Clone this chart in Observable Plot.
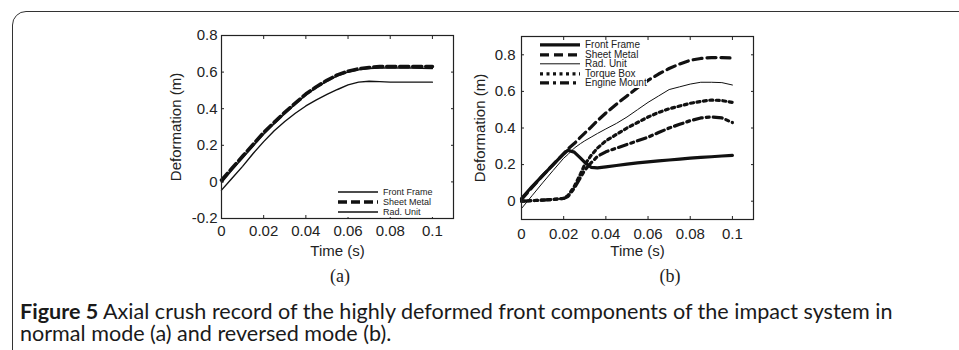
<!DOCTYPE html>
<html><head><meta charset="utf-8">
<script src="https://cdn.jsdelivr.net/npm/d3@7"></script>
<script src="https://cdn.jsdelivr.net/npm/@observablehq/plot@0.6"></script>
<style>
html,body{margin:0;padding:0;background:#fff;}
#root{position:relative;width:959px;height:350px;overflow:hidden;background:#fff;}
.abs{position:absolute;}
#border{left:12px;top:11px;width:1000px;height:400px;border:1.5px solid #333;border-radius:14px 0 0 0;box-sizing:border-box;}
.sub{font-family:"Liberation Serif";font-size:18px;color:#222;transform:translate(-50%,-50%);white-space:nowrap;}
.legend{font-family:"Liberation Sans";color:#222;background:#fff;}
.legend .row{display:flex;align-items:center;white-space:nowrap;}
.legend svg{display:block;margin-right:5px;}
.caption{font-family:"Lato";color:#1a1a1a;white-space:nowrap;left:20px;font-size:17px;line-height:22px;}
.caption b{font-weight:700;}
</style></head><body><div id="root">
<div id="border" class="abs"></div>
<div id="plotA" class="abs" style="left:161px;top:25px"></div>
<div id="plotB" class="abs" style="left:461px;top:26px"></div>
<div id="legA" class="abs legend"></div>
<div id="legB" class="abs legend"></div>
<div class="abs sub" style="left:340px;top:276px">(a)</div>
<div class="abs sub" style="left:670px;top:276px">(b)</div>
<div id="cap" class="abs caption" style="top:300px"><span id="cap1"><b>Figure 5</b> Axial crush record of the highly deformed front components of the impact system in</span><br>normal mode (a) and reversed mode (b).</div>
</div>
<script>
// ---------- data (a): normal mode ----------
const timeA = [0,0.005,0.01,0.015,0.02,0.025,0.03,0.035,0.04,0.045,0.05,0.055,0.06,0.065,0.07,0.075,0.08,0.09,0.1];
const frontFrameA = [-0.005,0.065,0.13,0.195,0.26,0.318,0.372,0.425,0.475,0.515,0.55,0.58,0.6,0.612,0.62,0.622,0.622,0.622,0.62];
const sheetMetalA = [0.01,0.075,0.14,0.205,0.27,0.325,0.38,0.43,0.48,0.52,0.555,0.585,0.605,0.618,0.625,0.63,0.63,0.63,0.63];
const radUnitA = [-0.045,0.02,0.085,0.155,0.22,0.28,0.33,0.375,0.415,0.448,0.478,0.505,0.53,0.545,0.55,0.548,0.545,0.545,0.545];

// ---------- data (b): reversed mode ----------
const timeB = [0,0.005,0.01,0.015,0.02,0.022,0.025,0.028,0.03,0.033,0.036,0.04,0.045,0.05,0.055,0.06,0.065,0.07,0.075,0.08,0.085,0.09,0.095,0.1];
const frontFrameB = [0.015,0.08,0.14,0.2,0.258,0.278,0.268,0.235,0.212,0.185,0.182,0.188,0.195,0.203,0.209,0.215,0.22,0.225,0.23,0.235,0.239,0.243,0.247,0.25];
const sheetMetalB = [0.01,0.075,0.14,0.2,0.26,0.285,0.315,0.35,0.372,0.405,0.44,0.482,0.53,0.575,0.62,0.66,0.695,0.725,0.75,0.77,0.78,0.785,0.785,0.783];
const radUnitB = [-0.04,0.03,0.1,0.168,0.235,0.255,0.29,0.315,0.33,0.35,0.37,0.395,0.425,0.46,0.5,0.54,0.575,0.61,0.625,0.64,0.65,0.65,0.648,0.635];
const torqueBoxB = [0,0.003,0.006,0.01,0.015,0.03,0.08,0.15,0.2,0.25,0.29,0.33,0.365,0.4,0.43,0.46,0.485,0.505,0.52,0.535,0.545,0.553,0.55,0.54];
const engineMountB = [0,0.003,0.006,0.01,0.015,0.025,0.07,0.13,0.17,0.21,0.245,0.27,0.29,0.31,0.33,0.35,0.375,0.4,0.42,0.44,0.455,0.46,0.455,0.43];

// ---------- ticks ----------
const ticksXA = [0,0.02,0.04,0.06,0.08,0.1];
const ticksYA = [-0.2,0,0.2,0.4,0.6,0.8];
const ticksXB = [0,0.02,0.04,0.06,0.08,0.1];
const ticksYB = [0,0.2,0.4,0.6,0.8];

const seriesNamesA = ["Front Frame","Sheet Metal","Rad. Unit"];
const seriesNamesB = ["Front Frame","Sheet Metal","Rad. Unit","Torque Box","Engine Mount"];

const stylesA = [
  {strokeWidth:1.4, dash:null},
  {strokeWidth:3.6, dash:"9,4"},
  {strokeWidth:1.4, dash:null}
];
const stylesB = [
  {strokeWidth:3.2, dash:null},
  {strokeWidth:3.2, dash:"9,5"},
  {strokeWidth:1, dash:null},
  {strokeWidth:3.2, dash:"3,3.5"},
  {strokeWidth:3.2, dash:"9,4,3,4"}
];

const fmt = d => String(+d.toFixed(2));
const blank = () => "";

function table(times, vals){ return times.map((t,i)=>({t, v: vals[i]})); }

function makePlot({seriesVals, times, styles, xTicks, yTicks, yDomain, tickPadX, labelOffX, labelOffY, tickPadY}){
  return Plot.plot({
    width: 302, height: 233,
    marginLeft: 60, marginRight: 10, marginTop: 10, marginBottom: 40,
    x: {domain:[0,0.11]},
    y: {domain: yDomain},
    style: {fontFamily:"Liberation Sans", fontSize:"15px", color:"#222", background:"transparent", overflow:"visible"},
    marks: [
      ...seriesVals.map((vals,i)=>Plot.line(table(times, vals), {x:"t", y:"v", stroke:"#111", strokeWidth: styles[i].strokeWidth, strokeDasharray: styles[i].dash, strokeLinejoin:"round"})),
      Plot.frame({stroke:"#222", strokeWidth:1.2}),
      Plot.axisX(xTicks, {anchor:"bottom", tickSize:-3, tickPadding: tickPadX, tickFormat: fmt, label:"Time (s)", labelAnchor:"center", labelOffset: labelOffX, labelArrow:"none", fontSize:15}),
      Plot.axisX(xTicks, {anchor:"top", tickSize:-3, tickFormat: blank, label:null}),
      Plot.axisY(yTicks, {anchor:"left", tickSize:-3, tickPadding: tickPadY, tickFormat: fmt, label:"Deformation (m)", labelAnchor:"center", labelOffset: labelOffY, labelArrow:"none", fontSize:15}),
      Plot.axisY(yTicks, {anchor:"right", tickSize:-3, tickFormat: blank, label:null})
    ]
  });
}

document.getElementById("plotA").appendChild(makePlot({
  seriesVals:[frontFrameA, sheetMetalA, radUnitA], times: timeA, styles: stylesA,
  xTicks: ticksXA, yTicks: ticksYA, yDomain:[-0.2,0.8], tickPadX: 10, labelOffX: 37, labelOffY: 51, tickPadY: 7
}));
document.getElementById("plotB").appendChild(makePlot({
  seriesVals:[frontFrameB, sheetMetalB, radUnitB, torqueBoxB, engineMountB], times: timeB, styles: stylesB,
  xTicks: ticksXB, yTicks: ticksYB, yDomain:[-0.1,0.9], tickPadX: 12, labelOffX: 36, labelOffY: 47, tickPadY: 9
}));

function legend(el, names, styles, {left, top, rowH, fontSize, swatchW}){
  el.style.left = left + "px"; el.style.top = top + "px"; el.style.fontSize = fontSize + "px";
  names.forEach((n,i)=>{
    const row = document.createElement("div"); row.className = "row"; row.style.height = rowH + "px";
    const svg = d3.create("svg").attr("width", swatchW).attr("height", rowH);
    svg.append("line").attr("x1",0).attr("x2",swatchW).attr("y1",rowH/2).attr("y2",rowH/2)
      .attr("stroke","#111").attr("stroke-width",styles[i].strokeWidth).attr("stroke-dasharray",styles[i].dash);
    row.appendChild(svg.node());
    const s = document.createElement("span"); s.textContent = n; s.style.lineHeight = rowH + "px";
    row.appendChild(s);
    el.appendChild(row);
  });
}
legend(document.getElementById("legA"), seriesNamesA, stylesA, {left:338, top:187, rowH:10, fontSize:9, swatchW:40});
legend(document.getElementById("legB"), seriesNamesB, stylesB, {left:540, top:40, rowH:9.6, fontSize:10, swatchW:40});

// fit caption line 1 to its width in the reference
(function(){
  const c = document.getElementById("cap"), c1 = document.getElementById("cap1");
  const w = c1.getBoundingClientRect().width;
  const target = 873;
  c.style.fontSize = (17 * target / w) + "px";
})();
</script>
</body></html>
